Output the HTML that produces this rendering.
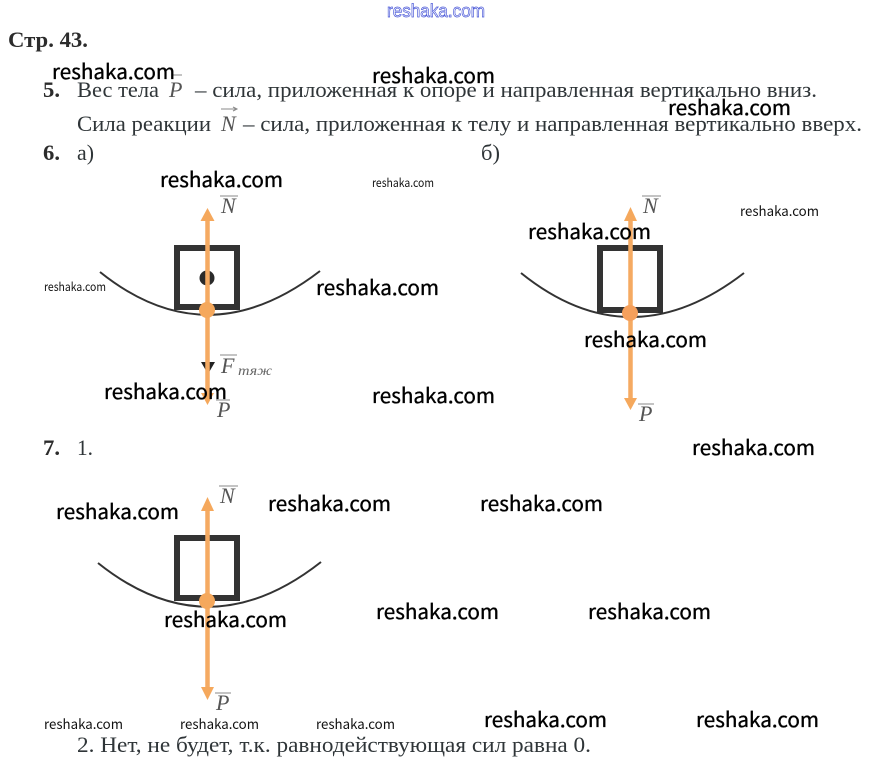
<!DOCTYPE html>
<html lang="ru">
<head>
<meta charset="utf-8">
<title>Стр. 43</title>
<style>
html,body{margin:0;padding:0;background:#fff;width:869px;height:767px;overflow:hidden}
svg{display:block}
.t{font-family:"Liberation Serif",serif;font-size:22px;fill:#2f3538}
.b{font-family:"Liberation Serif",serif;font-size:22px;font-weight:bold;fill:#2c2c2c}
.v{font-family:"Liberation Serif",serif;font-size:22px;font-style:italic;fill:#555}
.s{font-family:"Liberation Serif",serif;font-size:14px;font-style:italic;fill:#666}
.w{font-family:"Noto Sans CJK JP","DejaVu Sans",sans-serif;font-size:20.500px;fill:#000;stroke:#000;stroke-width:.35}
.m{font-family:"Noto Sans CJK JP","DejaVu Sans",sans-serif;font-size:12px;fill:#111}
.n{font-family:"Noto Sans CJK JP","DejaVu Sans",sans-serif;font-size:13.500px;fill:#111}
.o{stroke:#888;stroke-width:1;fill:none}
</style>
</head>
<body>
<svg width="869" height="767" viewBox="0 0 869 767" xmlns="http://www.w3.org/2000/svg">
<rect width="869" height="767" fill="#fff"/>

<text x="387" y="17" textLength="98" lengthAdjust="spacingAndGlyphs" style="font-family:'Liberation Sans',sans-serif;font-size:18px;fill:#fff;stroke:#4a58d8;stroke-width:.7">reshaka.com</text>

<text class="b" x="8" y="47" textLength="80" lengthAdjust="spacingAndGlyphs">Стр. 43.</text>

<text class="b" x="43" y="97" textLength="17" lengthAdjust="spacingAndGlyphs">5.</text>
<text class="t" x="77" y="97" textLength="82" lengthAdjust="spacingAndGlyphs">Вес тела</text>
<text class="v" x="169" y="97">P</text>
<path class="o" d="M172 75H182"/>
<text class="t" x="195" y="97" textLength="622" lengthAdjust="spacingAndGlyphs">– сила, приложенная к опоре и направленная вертикально вниз.</text>

<text class="t" x="77" y="131" textLength="134" lengthAdjust="spacingAndGlyphs">Сила реакции</text>
<text class="v" x="221" y="131">N</text>
<path class="o" d="M221 109H237M233 107l4 2-4 2"/>
<text class="t" x="243" y="131" textLength="619" lengthAdjust="spacingAndGlyphs">– сила, приложенная к телу и направленная вертикально вверх.</text>

<text class="b" x="43" y="160" textLength="17" lengthAdjust="spacingAndGlyphs">6.</text>
<text class="t" x="77" y="160" textLength="17" lengthAdjust="spacingAndGlyphs">а)</text>
<text class="t" x="481" y="160" textLength="19" lengthAdjust="spacingAndGlyphs">б)</text>

<text class="b" x="43" y="455" textLength="17" lengthAdjust="spacingAndGlyphs">7.</text>
<text class="t" x="77" y="455" textLength="16" lengthAdjust="spacingAndGlyphs">1.</text>
<text class="t" x="77" y="752" textLength="514" lengthAdjust="spacingAndGlyphs">2. Нет, не будет, т.к. равнодействующая сил равна 0.</text>

<!-- Diagram a -->
<g>
<path d="M100 272Q207 358 320 271" fill="none" stroke="#333" stroke-width="2"/>
<rect x="177" y="248" width="60" height="59" fill="none" stroke="#333" stroke-width="6"/>
<circle cx="207" cy="278" r="7.500" fill="#2a2a2a"/>
<path d="M201 362H215L208 374Z" fill="#222"/>
<path d="M207.500 215V398" stroke="#f5aa62" stroke-width="4.500"/>
<path d="M207.500 208L214.500 221H200.500Z" fill="#f5a85c"/>
<path d="M207.500 405L201 393H214Z" fill="#f5a85c"/>
<circle cx="207" cy="310" r="8" fill="#f5a85c"/>
<text class="v" x="221" y="213">N</text><path class="o" d="M220 196H238"/>
<text class="v" x="217" y="417">P</text><path class="o" d="M216 400H230"/>
<text class="v" x="221" y="373">F</text><path class="o" d="M220 355H237"/>
<text class="s" x="238" y="375" textLength="34" lengthAdjust="spacingAndGlyphs">тяж</text>
</g>

<!-- Diagram b -->
<g>
<path d="M521 273Q630 361 744 273" fill="none" stroke="#333" stroke-width="2"/>
<rect x="600" y="248" width="60" height="62" fill="none" stroke="#333" stroke-width="6"/>
<path d="M630.500 215V403" stroke="#f5aa62" stroke-width="4.500"/>
<path d="M630.500 207L637 221H624Z" fill="#f5a85c"/>
<path d="M630.500 410L624 398H637Z" fill="#f5a85c"/>
<circle cx="630" cy="313" r="8" fill="#f5a05c"/>
<text class="v" x="643" y="213">N</text><path class="o" d="M642 196H661"/>
<text class="v" x="639" y="421">P</text><path class="o" d="M638 404H654"/>
</g>

<!-- Diagram c -->
<g>
<path d="M98 563Q208 651 321 562" fill="none" stroke="#333" stroke-width="2"/>
<rect x="177" y="538" width="60" height="60" fill="none" stroke="#333" stroke-width="6"/>
<path d="M207.500 505V693" stroke="#f5aa62" stroke-width="4.500"/>
<path d="M207.500 497L214 511H201Z" fill="#f5a85c"/>
<path d="M207.500 700L201 687H214Z" fill="#f5a85c"/>
<circle cx="207" cy="601" r="8" fill="#f5a85c"/>
<text class="v" x="220" y="503">N</text><path class="o" d="M219 486H238"/>
<text class="v" x="216" y="710">P</text><path class="o" d="M215 693H231"/>
</g>

<!-- Watermarks -->
<g>
<text class="w" x="52" y="79" textLength="123" lengthAdjust="spacingAndGlyphs">reshaka.com</text>
<text class="w" x="372" y="83" textLength="123" lengthAdjust="spacingAndGlyphs">reshaka.com</text>
<text class="w" x="668" y="115" textLength="123" lengthAdjust="spacingAndGlyphs">reshaka.com</text>
<text class="w" x="160" y="187" textLength="123" lengthAdjust="spacingAndGlyphs">reshaka.com</text>
<text class="w" x="316" y="295" textLength="123" lengthAdjust="spacingAndGlyphs">reshaka.com</text>
<text class="w" x="528" y="239" textLength="123" lengthAdjust="spacingAndGlyphs">reshaka.com</text>
<text class="w" x="584" y="347" textLength="123" lengthAdjust="spacingAndGlyphs">reshaka.com</text>
<text class="w" x="104" y="399" textLength="123" lengthAdjust="spacingAndGlyphs">reshaka.com</text>
<text class="w" x="372" y="403" textLength="123" lengthAdjust="spacingAndGlyphs">reshaka.com</text>
<text class="w" x="692" y="455" textLength="123" lengthAdjust="spacingAndGlyphs">reshaka.com</text>
<text class="w" x="56" y="519" textLength="123" lengthAdjust="spacingAndGlyphs">reshaka.com</text>
<text class="w" x="268" y="511" textLength="123" lengthAdjust="spacingAndGlyphs">reshaka.com</text>
<text class="w" x="480" y="511" textLength="123" lengthAdjust="spacingAndGlyphs">reshaka.com</text>
<text class="w" x="376" y="619" textLength="123" lengthAdjust="spacingAndGlyphs">reshaka.com</text>
<text class="w" x="588" y="619" textLength="123" lengthAdjust="spacingAndGlyphs">reshaka.com</text>
<text class="w" x="164" y="627" textLength="123" lengthAdjust="spacingAndGlyphs">reshaka.com</text>
<text class="w" x="484" y="727" textLength="123" lengthAdjust="spacingAndGlyphs">reshaka.com</text>
<text class="w" x="696" y="727" textLength="123" lengthAdjust="spacingAndGlyphs">reshaka.com</text>
<text class="m" x="372" y="187" textLength="62" lengthAdjust="spacingAndGlyphs">reshaka.com</text>
<text class="m" x="44" y="291" textLength="62" lengthAdjust="spacingAndGlyphs">reshaka.com</text>
<text class="n" x="740" y="216" textLength="79" lengthAdjust="spacingAndGlyphs">reshaka.com</text>
<text class="n" x="44" y="729" textLength="79" lengthAdjust="spacingAndGlyphs">reshaka.com</text>
<text class="n" x="180" y="729" textLength="79" lengthAdjust="spacingAndGlyphs">reshaka.com</text>
<text class="n" x="316" y="729" textLength="79" lengthAdjust="spacingAndGlyphs">reshaka.com</text>
</g>
</svg>
</body>
</html>
